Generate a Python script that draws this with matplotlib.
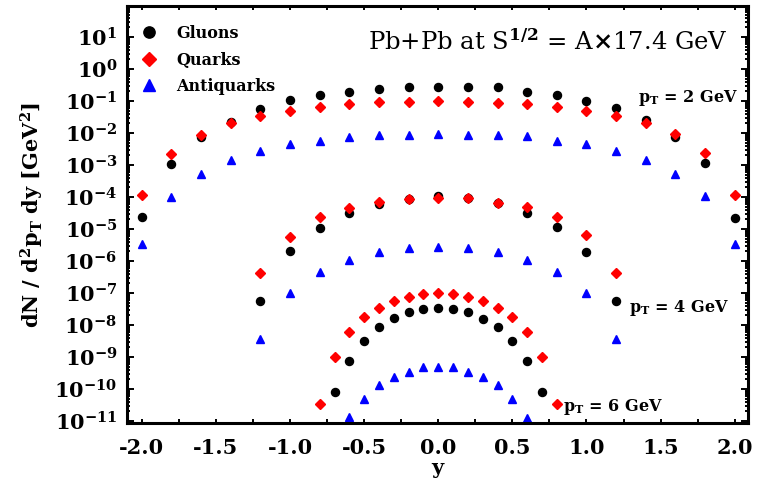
import numpy as np
import matplotlib
matplotlib.use('Agg')
import matplotlib.pyplot as plt
from matplotlib.ticker import LogLocator, LogFormatterMathtext, MultipleLocator, NullFormatter

plt.rcParams['font.family'] = ['DejaVu Serif']
plt.rcParams['font.weight'] = 'bold'
plt.rcParams['axes.labelweight'] = 'bold'
plt.rcParams['mathtext.fontset'] = 'dejavuserif'

# rapidity grids for the three pT bins
y_pt2 = np.round(np.arange(-2.0, 2.01, 0.2), 2)
y_pt4 = np.round(np.arange(-1.2, 1.21, 0.2), 2)
y_pt6 = np.round(np.arange(-0.8, 0.81, 0.1), 2)

# pT = 2 GeV
glu_pt2 = [2.4e-5, 1.05e-3, 7.6e-3, 2.24e-2, 5.6e-2, 0.107, 0.155, 0.195, 0.24, 0.27, 0.28,
           0.28, 0.27, 0.195, 0.155, 0.102, 5.9e-2, 2.57e-2, 7.4e-3, 1.12e-3, 2.2e-5]
qrk_pt2 = [1.12e-4, 2.2e-3, 8.7e-3, 2.1e-2, 3.4e-2, 5.0e-2, 6.6e-2, 8.1e-2, 9.1e-2, 9.5e-2, 0.1,
           9.5e-2, 8.9e-2, 8.1e-2, 6.3e-2, 5.0e-2, 3.4e-2, 2.0e-2, 9.1e-3, 2.3e-3, 1.15e-4]
aqk_pt2 = [3.5e-6, 1.0e-4, 5.1e-4, 1.45e-3, 2.75e-3, 4.5e-3, 5.8e-3, 7.4e-3, 8.7e-3, 8.7e-3, 9.3e-3,
           8.7e-3, 8.7e-3, 7.8e-3, 5.8e-3, 4.5e-3, 2.75e-3, 1.45e-3, 5.1e-4, 1.1e-4, 3.5e-6]

# pT = 4 GeV
glu_pt4 = [5.6e-8, 2.0e-6, 1.1e-5, 3.1e-5, 6.0e-5, 8.9e-5, 1.07e-4,
           9.3e-5, 6.3e-5, 3.1e-5, 1.17e-5, 1.95e-6, 5.8e-8]
qrk_pt4 = [4.3e-7, 5.8e-6, 2.3e-5, 4.7e-5, 6.8e-5, 8.7e-5, 9.1e-5,
           9.1e-5, 6.6e-5, 4.8e-5, 2.4e-5, 6.5e-6, 4.3e-7]
aqk_pt4 = [3.8e-9, 9.8e-8, 4.7e-7, 1.07e-6, 1.86e-6, 2.5e-6, 2.8e-6,
           2.5e-6, 1.95e-6, 1.07e-6, 4.7e-7, 9.8e-8, 3.8e-9]

# pT = 6 GeV (nan = below the plotted range)
glu_pt6 = [np.nan, 7.9e-11, 7.6e-10, 3.2e-9, 8.5e-9, 1.7e-8, 2.5e-8, 3.2e-8, 3.5e-8,
           3.2e-8, 2.6e-8, 1.6e-8, 8.5e-9, 3.2e-9, 7.6e-10, 7.9e-11, np.nan]
qrk_pt6 = [3.4e-11, 1.0e-9, 6.2e-9, 1.74e-8, 3.5e-8, 5.8e-8, 7.6e-8, 9.1e-8, 9.8e-8,
           9.3e-8, 7.6e-8, 5.8e-8, 3.5e-8, 1.74e-8, 6.2e-9, 1.0e-9, 3.4e-11]
aqk_pt6 = [np.nan, np.nan, 1.32e-11, 4.9e-11, 1.32e-10, 2.4e-10, 3.5e-10, 4.8e-10, 5.0e-10,
           4.8e-10, 3.5e-10, 2.4e-10, 1.32e-10, 5.0e-11, 1.26e-11, np.nan, np.nan]

decades = np.arange(-11, 2)

fig = plt.figure(figsize=(7.57, 4.82), dpi=100)
ax = fig.add_axes([0.1678, 0.1224, 0.8203, 0.8651])

sty_g = dict(ls='none', marker='o', color='black', ms=5.8, mec='black')
sty_q = dict(ls='none', marker='D', color='red', ms=4.8, mec='red')
sty_a = dict(ls='none', marker='^', color='blue', ms=6.2, mec='blue')

ax.plot(y_pt2, glu_pt2, label='Gluons', **sty_g)
ax.plot(y_pt2, qrk_pt2, label='Quarks', **sty_q)
ax.plot(y_pt2, aqk_pt2, label='Antiquarks', **sty_a)
for yy, g, q, a in [(y_pt4, glu_pt4, qrk_pt4, aqk_pt4), (y_pt6, glu_pt6, qrk_pt6, aqk_pt6)]:
    ax.plot(yy, g, **sty_g)
    ax.plot(yy, q, **sty_q)
    ax.plot(yy, a, **sty_a)

ax.set_yscale('log')
ax.set_xlim(-2.1, 2.09)
ax.set_ylim(8.7e-12, 93.)

ax.set_yticks(10.0**decades)
ax.yaxis.set_minor_locator(LogLocator(base=10, subs=np.arange(2, 10), numticks=30))
ax.yaxis.set_major_formatter(LogFormatterMathtext())
ax.yaxis.set_minor_formatter(NullFormatter())
ax.xaxis.set_major_locator(MultipleLocator(0.5))
ax.xaxis.set_minor_locator(MultipleLocator(0.25))
ax.xaxis.set_major_formatter(matplotlib.ticker.FormatStrFormatter('%.1f'))

ax.tick_params(which='both', direction='in', top=True, right=True, width=1.4)
ax.tick_params(axis='y', which='major', length=5, labelsize=15, pad=7)
ax.tick_params(axis='y', which='minor', length=2.5)
ax.tick_params(axis='x', which='both', length=3, labelsize=15, pad=11)
for sp in ax.spines.values():
    sp.set_linewidth(2.2)

ax.set_xlabel('y', fontsize=15)
ax.xaxis.set_label_coords(0.5, -0.085)
ax.set_ylabel(r'dN / d$^\mathbf{2}$p$_\mathbf{T}$ dy [GeV$^\mathbf{2}$]', fontsize=15)
ax.yaxis.set_label_coords(-0.13, 0.5)

ax.legend(loc='upper left', bbox_to_anchor=(0.012, 0.97), frameon=False, fontsize=11.5,
          markerscale=1.4, handlelength=1.0, handletextpad=1.2, labelspacing=0.6,
          borderaxespad=0.0, borderpad=0.4)

ax.text(0.968, 0.914, r'Pb+Pb at S$^{1/2}$ = A$\times$17.4 GeV', transform=ax.transAxes,
        ha='right', va='center', fontsize=17.5, fontweight='normal')
ax.text(1.35, 0.12, r'p$_\mathbf{T}$ = 2 GeV', fontsize=11.5, va='center', ha='left')
ax.text(1.29, 10**-7.47, r'p$_\mathbf{T}$ = 4 GeV', fontsize=11.5, va='center', ha='left')
ax.text(0.84, 10**-10.56, r'p$_\mathbf{T}$ = 6 GeV', fontsize=11.5, va='center', ha='left')

plt.savefig('out.png', dpi=100)
